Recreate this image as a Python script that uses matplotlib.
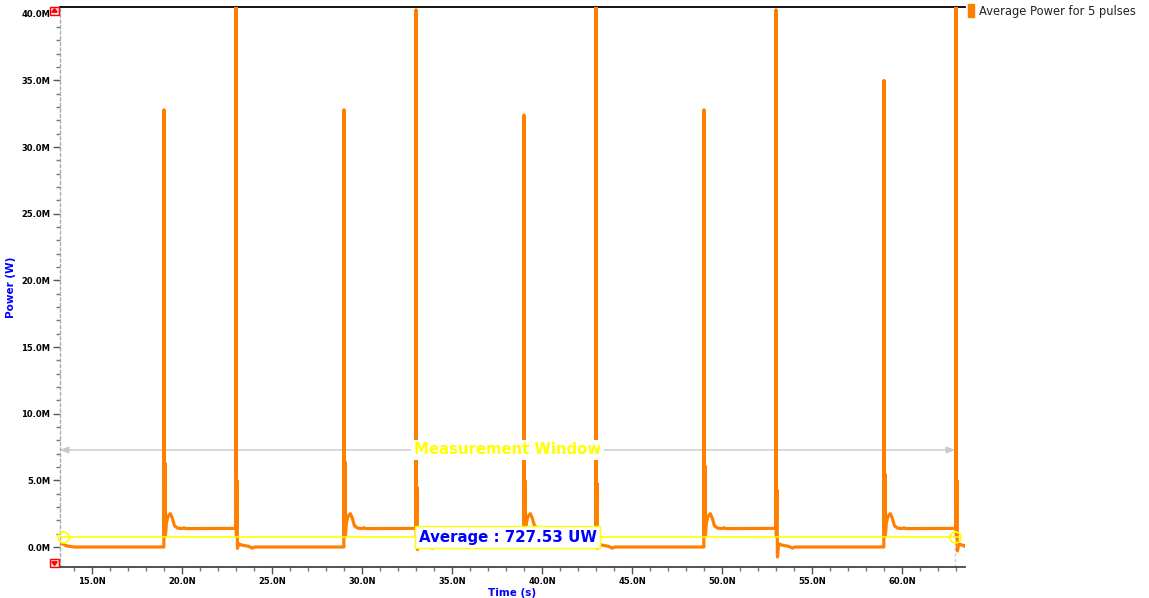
import matplotlib.pyplot as plt
from matplotlib.patches import Rectangle, Polygon
from matplotlib.ticker import MultipleLocator, FuncFormatter

# pulse edges (ns) and the overshoot at each edge (mW)
rise_times = [19.0, 29.0, 39.0, 49.0, 59.0]
rise_peaks = [32.8, 32.8, 32.4, 32.8, 35.0]
rise_glitch = [6.3, 6.4, 5.0, 6.1, 5.5]
fall_times = [23.0, 33.0, 43.0, 53.0, 63.0]
fall_peaks = [41.5, 40.3, 41.5, 40.3, 41.5]
fall_glitch = [5.0, 4.5, 4.8, 4.3, 5.0]
fall_dip = [-0.1, -0.2, -0.1, -0.75, -0.3]

# settling after a rising edge: offset (ns) / power (mW); slot 1 holds the glitch
rise_offsets = [0.02, 0.05, 0.08, 0.13, 0.22, 0.35, 0.45, 0.58, 0.75, 1.0, 1.1, 1.2]
rise_values = [0.8, None, 0.9, 1.8, 2.3, 2.5, 2.2, 1.6, 1.42, 1.38, 1.44, 1.38]
high_level = 1.4

# tail after a falling edge; slot 1 holds the glitch, slot 2 the dip
fall_offsets = [0.02, 0.05, 0.08, 0.15, 0.3, 0.5, 0.7, 0.9, 1.05]
fall_values = [0.8, None, None, 0.25, 0.15, 0.1, 0.05, -0.08, 0.0]

start_t = [13.22, 13.35, 13.6, 14.0]
start_p = [0.3, 0.25, 0.08, 0.0]

avg_value = 0.72753          # mW
window = (13.22, 62.94)      # ns
window_level = 7.28          # mW

# assemble the trace
t = list(start_t)
p = list(start_p)
for i in range(len(rise_times)):
    tr, tf = rise_times[i], fall_times[i]
    t += [tr - 0.01, tr]
    p += [0.0, rise_peaks[i]]
    for k, (o, v) in enumerate(zip(rise_offsets, rise_values)):
        t.append(tr + o)
        p.append(rise_glitch[i] if k == 1 else v)
    t += [tf - 0.01, tf]
    p += [high_level, fall_peaks[i]]
    for k, (o, v) in enumerate(zip(fall_offsets, fall_values)):
        t.append(tf + o)
        if k == 1:
            p.append(fall_glitch[i])
        elif k == 2:
            p.append(fall_dip[i])
        else:
            p.append(v)
t.append(63.5)
p.append(0.05)

orange = '#ff8000'
fig = plt.figure(figsize=(11.49, 5.98), dpi=100)
ax = fig.add_axes([60 / 1149, 31 / 598, 905 / 1149, 560 / 598])

ax.plot(t, p, color=orange, lw=2.3, zorder=3)
ax.set_xlim(13.22, 63.5)
ax.set_ylim(-1.5, 40.51)

# measurement window
ax.annotate('', xy=(window[0], window_level), xytext=(window[1], window_level),
            arrowprops=dict(arrowstyle='<|-|>,head_length=0.5,head_width=0.2',
                            color='#c8c8c8', lw=1, shrinkA=0, shrinkB=0), zorder=2)
mid = (window[0] + window[1]) / 2
ax.text(mid, window_level, 'Measurement Window', color='#ffff00', fontsize=10.7,
        fontweight='bold', ha='center', va='center', zorder=5,
        bbox=dict(facecolor='white', edgecolor='none', pad=2))
ax.axvline(window[1], color='#c8c8c8', lw=1, ls=(0, (2, 2)), zorder=1)

# average marker
ax.plot([window[0], window[1] + 0.2], [avg_value, avg_value], color='#ffff00', lw=1.2, zorder=4)
ax.plot([window[0] + 0.15, window[1]], [avg_value, avg_value], 'o', mfc='none',
        mec='#ffff00', ms=8, mew=1.2, zorder=4, clip_on=False)
ax.text(mid, avg_value, 'Average : 727.53 UW', color='#0000ff', fontsize=10.8,
        fontweight='bold', ha='center', va='center', zorder=6,
        bbox=dict(facecolor='white', edgecolor='#ffff00', pad=2.5, lw=1))

# axes styling
ax.spines['right'].set_visible(False)
ax.spines['top'].set_color('black')
ax.spines['top'].set_linewidth(1.3)
ax.spines['left'].set_color('#aaaaaa')
ax.spines['left'].set_linestyle((0, (2, 2)))
ax.spines['left'].set_linewidth(1)
ax.spines['bottom'].set_color('#444444')
ax.spines['bottom'].set_linewidth(1.3)

ax.xaxis.set_major_locator(MultipleLocator(5))
ax.xaxis.set_minor_locator(MultipleLocator(1))
ax.yaxis.set_major_locator(MultipleLocator(5))
ax.yaxis.set_minor_locator(MultipleLocator(1))
ax.xaxis.set_major_formatter(FuncFormatter(lambda v, _: f'{v:.1f}N'))
ax.yaxis.set_major_formatter(FuncFormatter(lambda v, _: f'{v:.1f}M'))
ax.tick_params(which='major', length=5, width=1, color='#555555', pad=2)
ax.tick_params(which='minor', length=3, width=1, color='#777777')
for lab in ax.get_xticklabels() + ax.get_yticklabels():
    lab.set_fontsize(6)
    lab.set_fontweight('bold')

ax.set_xlabel('Time (s)', color='#0000ff', fontsize=7.5, fontweight='bold', labelpad=2)
ax.set_ylabel('Power (W)', color='#0000ff', fontsize=7.5, fontweight='bold', labelpad=4)

# legend entry
fig.patches.append(Rectangle((968 / 1149, 1 - 17 / 598), 6 / 1149, 13 / 598,
                             transform=fig.transFigure, color=orange))
fig.text(979 / 1149, 1 - 11 / 598, 'Average Power for 5 pulses', fontsize=8.3,
         va='center', ha='left', color='#222222')

# scroll markers on the y axis
for y0, up in [(1 - 15 / 598, True), (1 - 567 / 598, False)]:
    w, h = 9 / 1149, 8 / 598
    x0 = 50 / 1149
    fig.patches.append(Rectangle((x0, y0), w, h, transform=fig.transFigure,
                                 facecolor='#ffe0e0', edgecolor='red', lw=1))
    if up:
        tri = [(x0 + w * 0.2, y0 + h * 0.35), (x0 + w * 0.8, y0 + h * 0.35), (x0 + w * 0.5, y0 + h * 0.8)]
    else:
        tri = [(x0 + w * 0.2, y0 + h * 0.65), (x0 + w * 0.8, y0 + h * 0.65), (x0 + w * 0.5, y0 + h * 0.2)]
    fig.patches.append(Polygon(tri, closed=True, transform=fig.transFigure, color='red'))

fig.savefig('out.png', dpi=100)
